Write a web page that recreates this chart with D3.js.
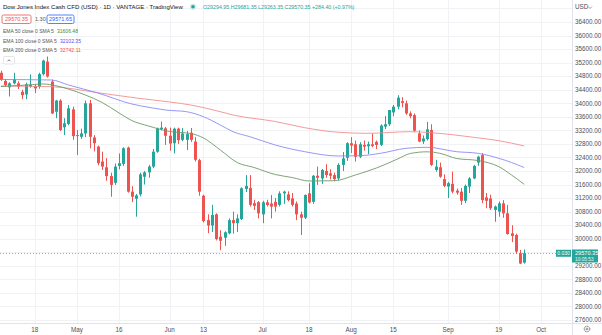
<!DOCTYPE html>
<html><head><meta charset="utf-8">
<script src="https://cdn.jsdelivr.net/npm/d3@7"></script>
<style>
html,body{margin:0;padding:0;background:#fff;overflow:hidden;}
svg{display:block;font-family:"Liberation Sans",Arial,sans-serif;}
</style></head><body>
<svg id="c" width="602" height="335"></svg>
<script>
// ---------- DATA ----------
const dates = [
"2022-04-06","2022-04-07","2022-04-08","2022-04-11","2022-04-12","2022-04-13","2022-04-14","2022-04-15","2022-04-18","2022-04-19","2022-04-20","2022-04-21","2022-04-22","2022-04-25","2022-04-26","2022-04-27","2022-04-28","2022-04-29",
"2022-05-02","2022-05-03","2022-05-04","2022-05-05","2022-05-06","2022-05-09","2022-05-10","2022-05-11","2022-05-12","2022-05-13","2022-05-16","2022-05-17","2022-05-18","2022-05-19","2022-05-20","2022-05-23","2022-05-24","2022-05-25","2022-05-26","2022-05-27","2022-05-30","2022-05-31",
"2022-06-01","2022-06-02","2022-06-03","2022-06-06","2022-06-07","2022-06-08","2022-06-09","2022-06-10","2022-06-13","2022-06-14","2022-06-15","2022-06-16","2022-06-17","2022-06-20","2022-06-21","2022-06-22","2022-06-23","2022-06-24","2022-06-27","2022-06-28","2022-06-29","2022-06-30",
"2022-07-01","2022-07-04","2022-07-05","2022-07-06","2022-07-07","2022-07-08","2022-07-11","2022-07-12","2022-07-13","2022-07-14","2022-07-15","2022-07-18","2022-07-19","2022-07-20","2022-07-21","2022-07-22","2022-07-25","2022-07-26","2022-07-27","2022-07-28","2022-07-29",
"2022-08-01","2022-08-02","2022-08-03","2022-08-04","2022-08-05","2022-08-08","2022-08-09","2022-08-10","2022-08-11","2022-08-12","2022-08-15","2022-08-16","2022-08-17","2022-08-18","2022-08-19","2022-08-22","2022-08-23","2022-08-24","2022-08-25","2022-08-26","2022-08-29","2022-08-30","2022-08-31",
"2022-09-01","2022-09-02","2022-09-05","2022-09-06","2022-09-07","2022-09-08","2022-09-09","2022-09-12","2022-09-13","2022-09-14","2022-09-15","2022-09-16","2022-09-19","2022-09-20","2022-09-21","2022-09-22","2022-09-23","2022-09-26","2022-09-27"
];
const futureDates = ["2022-09-28","2022-09-29","2022-09-30","2022-10-03","2022-10-04","2022-10-05","2022-10-06","2022-10-07"];

const opens = [34900,34660,34470,34590,34590,34340,34260,34490,34510,34490,34860,35230,34640,33750,34080,33290,33390,33820,
33060,33010,33110,34000,32990,32720,32280,32110,31850,31650,32150,32210,32690,31390,31180,31310,31830,31960,32130,32570,33240,33260,
33040,32820,33250,32920,32920,33130,32870,32320,31270,30550,30390,30720,30060,30030,30160,30550,30460,30580,31470,31500,31050,31080,
30720,31075,31040,31090,31000,31340,31310,31190,31040,30720,30620,31340,31090,31860,31780,32000,31930,31880,31780,32180,32390,
32820,32790,32420,32770,32730,32790,32860,32770,33310,33380,33730,33900,34060,34000,33700,33650,33110,32870,32940,33210,32030,32110,31760,
31540,31620,31420,31390,31120,31540,31780,32250,32470,31220,31190,30850,30800,31045,30750,30160,30110,29570,29294.95];
const highs = [34960,34720,34620,34900,34650,34400,34610,34850,34560,34900,35290,35380,34700,34100,34120,33560,33950,33900,
33210,33250,34080,34100,33060,32750,32570,32380,31950,32220,32520,32700,32720,31550,31320,31950,32000,32180,32650,33280,33460,33300,
33280,33280,33280,33270,33180,33270,33000,32360,31300,30720,31000,30750,30250,30220,30600,30800,30720,31520,31880,31880,31150,31110,
31120,31150,31290,31200,31400,31420,31400,31350,31100,30800,31310,31640,31880,32130,32060,32200,32050,31950,32230,32560,32850,
33000,32900,32850,32900,32870,33110,32900,33380,33620,33800,33950,34240,34180,34080,33760,33700,33200,33050,33450,33380,32330,32250,31900,
31680,31980,31480,31500,31600,31820,32180,32450,32530,31350,31300,30980,31100,31140,31000,30400,30150,29670,29681.35];
const lows = [34660,34480,34200,34560,34420,34120,34120,34460,34300,34430,34820,34760,33680,33560,33180,33060,33350,32920,
32470,32950,33000,32670,32580,32170,32030,31710,31240,31590,32050,32150,31360,31080,30650,31250,31600,31800,32080,32540,33200,32770,
32600,32520,32800,32880,32620,32860,32280,31270,30480,30160,30200,29950,29660,29790,30130,30150,30200,30550,31380,30950,30850,30600,
30460,30950,30600,30800,30950,31030,31100,30950,30550,30110,30580,31040,31030,31590,31620,31800,31750,31700,31720,32000,32300,
32530,32280,32380,32600,32500,32700,32650,32740,33240,33330,33620,33820,33880,33660,33560,33150,32850,32800,32900,32150,31980,31800,31520,
31200,31340,31300,31000,31050,31350,31760,32150,31050,30900,30850,30500,30650,30620,30120,29900,29550,29250,29263.35];
const closes = [34690,34540,34590,34710,34490,34240,34560,34540,34440,34860,35260,34790,33700,34080,33210,33410,33850,33030,
33040,33110,34000,33010,32820,32230,32130,31850,31590,32130,32230,32670,31390,31240,31280,31900,31960,32130,32570,33260,33280,33040,
32810,33250,32910,33110,33090,32920,32330,31390,30520,30390,30700,29990,29940,30190,30550,30460,30600,31490,31560,31000,30970,30750,
31075,30996,30950,30950,31340,31390,31140,31000,30720,30620,31290,31070,31860,31800,32030,31880,31860,31760,32180,32370,32820,
32750,32420,32790,32720,32790,32740,32770,33340,33380,33800,33900,34165,34010,33700,33620,33190,32870,32960,33230,32180,32130,31830,31560,
31640,31390,31360,31120,31560,31780,32150,32420,31140,31120,30900,30950,31045,30750,30140,30080,29620,29270,29570.35];

const ema50 = [["2022-04-06",34495],["2022-04-13",34530],["2022-04-20",34569],["2022-04-25",34520],["2022-04-28",34420],["2022-05-04",34245],["2022-05-10",34023],["2022-05-16",33713],["2022-05-19",33490],["2022-05-25",33329],["2022-06-01",33166],["2022-06-08",33107],["2022-06-13",32975],["2022-06-17",32620],["2022-06-23",32251],["2022-06-29",32103],["2022-07-06",31897],["2022-07-12",31808],["2022-07-18",31705],["2022-07-26",31713],["2022-08-02",31882],["2022-08-09",32089],["2022-08-16",32354],["2022-08-19",32517],["2022-08-25",32567],["2022-08-30",32523],["2022-09-05",32369],["2022-09-12",32310],["2022-09-19",32127],["2022-09-22",31882],["2022-09-27",31606]];
const ema100 = [["2022-04-06",34702],["2022-04-22",34687],["2022-04-28",34540],["2022-05-09",34303],["2022-05-19",33979],["2022-05-26",33860],["2022-05-31",33801],["2022-06-07",33751],["2022-06-13",33603],["2022-06-17",33358],["2022-06-22",33161],["2022-06-28",33013],["2022-07-06",32768],["2022-07-15",32570],["2022-07-27",32443],["2022-08-03",32452],["2022-08-10",32523],["2022-08-18",32670],["2022-08-25",32700],["2022-09-05",32570],["2022-09-12",32523],["2022-09-19",32375],["2022-09-22",32251],["2022-09-27",32102]];
const ema200 = [["2022-04-06",34510],["2022-04-22",34489],["2022-05-09",34312],["2022-05-23",34141],["2022-06-01",34038],["2022-06-08",33949],["2022-06-17",33751],["2022-06-22",33654],["2022-07-06",33462],["2022-07-15",33279],["2022-07-27",33143],["2022-08-05",33113],["2022-08-19",33161],["2022-08-26",33131],["2022-09-09",32995],["2022-09-19",32895],["2022-09-27",32741]];

const gridPrices = [27600,28000,28400,28800,29200,29600,30000,30400,30800,31200,31600,32000,32400,32800,33200,33600,34000,34400,34800,35200,35600,36000,36400,36800];
const priceTickLabels = [27600,28000,28400,28800,29200,30000,30400,30800,31200,31600,32000,32400,32800,33200,33600,34000,34400,34800,35200,35600,36000,36400];
const dateTicks = ["2022-04-18","2022-05-02","2022-05-16","2022-06-01","2022-06-13","2022-07-01","2022-07-18","2022-08-01","2022-08-15","2022-09-01","2022-09-19","2022-10-03"];
const dateTickLabels = ["18","May","16","Jun","13","Jul","18","Aug","15","Sep","19","Oct"];

const lastPrice = 29570.35;

// ---------- LAYOUT ----------
const W = 602, H = 335, plotR = 572, plotB = 323;
const UP = "#26a69a", DOWN = "#ef5350";
const svg = d3.select("#c");
const allDates = dates.concat(futureDates);
const x = d3.scalePoint().domain(allDates).range([0.9, 0.9 + (allDates.length - 1) * 4.22]);
const y = d3.scaleLinear().domain([27600, 36400]).range([320, 22]);

function fit(sel, w) {
  const cur = sel.node().getComputedTextLength();
  if (cur > 0) sel.attr("font-size", (+sel.attr("font-size")) * w / cur);
  return sel;
}

// grid
const grid = svg.append("g");
grid.selectAll("line.h").data(gridPrices).join("line")
  .attr("x1", 0).attr("x2", plotR).attr("y1", d => Math.round(y(d)) + 0.5).attr("y2", d => Math.round(y(d)) + 0.5)
  .attr("stroke", "#f0f2f6").attr("stroke-width", 1);
grid.selectAll("line.v").data(dateTicks).join("line")
  .attr("y1", 0).attr("y2", plotB).attr("x1", d => Math.round(x(d)) + 0.5).attr("x2", d => Math.round(x(d)) + 0.5)
  .attr("stroke", "#f0f2f6").attr("stroke-width", 1);

// last price dotted line
svg.append("line").attr("x1", 0).attr("x2", 556).attr("y1", Math.round(y(lastPrice)) + 0.5).attr("y2", Math.round(y(lastPrice)) + 0.5)
  .attr("stroke", UP).attr("stroke-opacity", 0.7).attr("stroke-dasharray", "1,2");

// candles
const bars = dates.map((d, i) => ({d, o: opens[i], h: highs[i], l: lows[i], c: closes[i]}));
const cg = svg.append("g");
const cand = cg.selectAll("g").data(bars).join("g");
cand.append("line")
  .attr("x1", d => Math.round(x(d.d)) + 0.5).attr("x2", d => Math.round(x(d.d)) + 0.5)
  .attr("y1", d => y(d.h)).attr("y2", d => y(d.l))
  .attr("stroke", d => d.c >= d.o ? UP : DOWN).attr("stroke-width", 1);
cand.append("rect")
  .attr("x", d => Math.round(x(d.d)) - 1).attr("width", 3)
  .attr("y", d => y(Math.max(d.o, d.c)))
  .attr("height", d => Math.max(1, Math.abs(y(d.o) - y(d.c))))
  .attr("fill", d => d.c >= d.o ? UP : DOWN);

// EMA lines
const line = d3.line().x(d => x(d[0])).y(d => y(d[1])).curve(d3.curveMonotoneX);
svg.append("path").attr("d", line(ema200)).attr("fill", "none").attr("stroke", "#f08a8a").attr("stroke-width", 1).attr("stroke-opacity", 0.85);
svg.append("path").attr("d", line(ema100)).attr("fill", "none").attr("stroke", "#8585f5").attr("stroke-width", 1).attr("stroke-opacity", 0.85);
svg.append("path").attr("d", line(ema50)).attr("fill", "none").attr("stroke", "#6f9a68").attr("stroke-width", 1).attr("stroke-opacity", 0.9);

// axes frame
svg.append("rect").attr("x", plotR).attr("y", 0).attr("width", W - plotR).attr("height", H).attr("fill", "#fff");
svg.append("rect").attr("x", 0).attr("y", plotB).attr("width", W).attr("height", H - plotB).attr("fill", "#fff");
svg.append("line").attr("x1", plotR + 0.5).attr("x2", plotR + 0.5).attr("y1", 0).attr("y2", H).attr("stroke", "#e0e3eb");
svg.append("line").attr("x1", 0).attr("x2", W).attr("y1", plotB + 0.5).attr("y2", plotB + 0.5).attr("stroke", "#e0e3eb");

// price axis labels
svg.append("g").selectAll("text").data(priceTickLabels).join("text")
  .attr("x", 575).attr("y", d => y(d) + 2.3).attr("font-size", 6.3).attr("fill", "#4c4f58")
  .text(d => d3.format(".2f")(d));
svg.append("text").attr("x", 575).attr("y", 9).attr("font-size", 6.3).attr("fill", "#4c4f58").text("USD");
svg.append("path").attr("d", "M588,6.5 l2,2 l2,-2").attr("fill", "none").attr("stroke", "#777").attr("stroke-width", 0.7);

// date axis labels
svg.append("g").selectAll("text").data(dateTicks).join("text")
  .attr("x", d => x(d)).attr("y", 331.5).attr("text-anchor", "middle").attr("font-size", 6.3).attr("fill", "#4c4f58")
  .text((d, i) => dateTickLabels[i]);

// gear icon
svg.append("circle").attr("cx", 587).attr("cy", 329).attr("r", 2.8).attr("fill", "none").attr("stroke", "#555").attr("stroke-width", 0.9).attr("stroke-dasharray", "1.2,0.6");
svg.append("circle").attr("cx", 587).attr("cy", 329).attr("r", 1).attr("fill", "none").attr("stroke", "#555").attr("stroke-width", 0.6);

// last price labels
const ly = y(lastPrice);
svg.append("rect").attr("x", 556).attr("y", ly - 3.5).attr("width", 15).attr("height", 7).attr("fill", UP);
svg.append("text").attr("x", 563.5).attr("y", ly + 1.8).attr("text-anchor", "middle").attr("font-size", 5).attr("fill", "#fff").text("0.030");
svg.append("rect").attr("x", 572).attr("y", ly - 3.8).attr("width", 26).attr("height", 13).attr("fill", UP);
svg.append("text").attr("x", 575).attr("y", ly + 1.7).attr("font-size", 5.6).attr("fill", "#fff").text(d3.format(".2f")(lastPrice));
svg.append("text").attr("x", 575).attr("y", ly + 7.9).attr("font-size", 4.8).attr("fill", "#e6f6f4").text("10:05:53");

// header
fit(svg.append("text").attr("x", 3).attr("y", 9).attr("font-size", 7).attr("fill", "#131722")
  .text("Dow Jones Index Cash CFD (USD) · 1D · VANTAGE · TradingView"), 180);
svg.append("circle").attr("cx", 193).attr("cy", 6.7).attr("r", 3.2).attr("fill", "#d4efe9");
svg.append("circle").attr("cx", 193).attr("cy", 6.7).attr("r", 1.8).attr("fill", UP);
fit(svg.append("text").attr("x", 203).attr("y", 8.8).attr("font-size", 6.5).attr("fill", UP)
  .text("O29294.95 H29681.35 L29263.35 C29570.35 +284.40 (+0.97%)"), 152);

svg.append("rect").attr("x", 2).attr("y", 15).attr("width", 29).attr("height", 8.5).attr("rx", 1.5).attr("fill", "#fff").attr("stroke", DOWN).attr("stroke-width", 0.8);
fit(svg.append("text").attr("x", 16.5).attr("y", 21.4).attr("text-anchor", "middle").attr("font-size", 6).attr("fill", DOWN).text("29570.35"), 23);
svg.append("text").attr("x", 35).attr("y", 21.3).attr("font-size", 5.5).attr("fill", "#555").text("1.30");
svg.append("rect").attr("x", 47).attr("y", 15).attr("width", 27).attr("height", 8.5).attr("rx", 1.5).attr("fill", "#fff").attr("stroke", "#2962ff").attr("stroke-width", 0.8);
fit(svg.append("text").attr("x", 60.5).attr("y", 21.4).attr("text-anchor", "middle").attr("font-size", 6).attr("fill", "#2962ff").text("29571.65"), 23);

const legend = [
  {name: "EMA 50 close 0 SMA 5", val: "31606.48", col: "#43883d", y: 32.8, w: 51, vx: 57},
  {name: "EMA 100 close 0 SMA 5", val: "32102.35", col: "#5050f0", y: 42.8, w: 54, vx: 60},
  {name: "EMA 200 close 0 SMA 5", val: "32742.11", col: "#ef5350", y: 52.4, w: 54, vx: 60}
];
legend.forEach(l => {
  fit(svg.append("text").attr("x", 3).attr("y", l.y).attr("font-size", 5.8).attr("fill", "#555").text(l.name), l.w);
  fit(svg.append("text").attr("x", l.vx).attr("y", l.y).attr("font-size", 5.8).attr("fill", l.col).text(l.val), 21);
});
svg.append("rect").attr("x", 3.5).attr("y", 56.5).attr("width", 11).attr("height", 7.5).attr("rx", 1.2).attr("fill", "#fff").attr("stroke", "#d6d8de").attr("stroke-width", 0.7);
svg.append("path").attr("d", "M7.5,61.3 l1.5,-1.5 l1.5,1.5").attr("fill", "none").attr("stroke", "#444").attr("stroke-width", 0.7);
</script>
</body></html>
